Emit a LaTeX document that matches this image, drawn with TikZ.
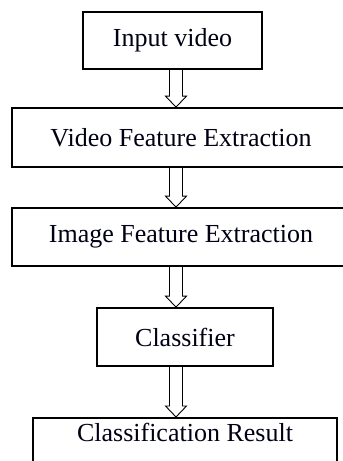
\documentclass[tikz,border=0pt]{standalone}
\usepackage{fontspec}
\setmainfont{Liberation Serif}
\usetikzlibrary{calc}
\begin{document}
\begin{tikzpicture}[x=1pt,y=1pt,
  stepbox/.style={draw=black,line width=1.8pt,rectangle,inner sep=0pt,
    font=\fontsize{26}{30}\selectfont,text=black!92!blue},
  hollow/.style={line width=0.9pt,line join=miter,
    to path={($(\tikztostart)+(-6.5,0)$) -- ($(\tikztotarget)+(-6.5,11)$)
      -- ($(\tikztotarget)+(-10.5,11)$) -- (\tikztotarget)
      -- ($(\tikztotarget)+(10.5,11)$) -- ($(\tikztotarget)+(6.5,11)$)
      -- ($(\tikztostart)+(6.5,0)$)}}]
\clip (0,0) rectangle (343,-461);
\fill[white] (0,0) rectangle (343,-461);
\coordinate (ax) at (176,0);
\node[stepbox,minimum width=179pt,minimum height=57pt] (a) at (172.5,-40.5) {Input video};
\node[stepbox,minimum width=338pt,minimum height=59pt] (b) at (181,-137.5) {Video Feature Extraction};
\node[stepbox,minimum width=338pt,minimum height=58pt] (c) at (181,-237) {Image Feature Extraction};
\node[stepbox,minimum width=176pt,minimum height=58pt] (d) at (185,-337) {Classifier};
\node[stepbox,minimum width=304pt,anchor=north,text height=18pt,text depth=30pt,inner ysep=6pt] (e) at (185,-417) {Classification Result};
\draw[hollow] (a.south -| ax) to (b.north -| ax);
\draw[hollow] (b.south -| ax) to (c.north -| ax);
\draw[hollow] (c.south -| ax) to (d.north -| ax);
\draw[hollow] (d.south -| ax) to (e.north -| ax);
\end{tikzpicture}
\end{document}
